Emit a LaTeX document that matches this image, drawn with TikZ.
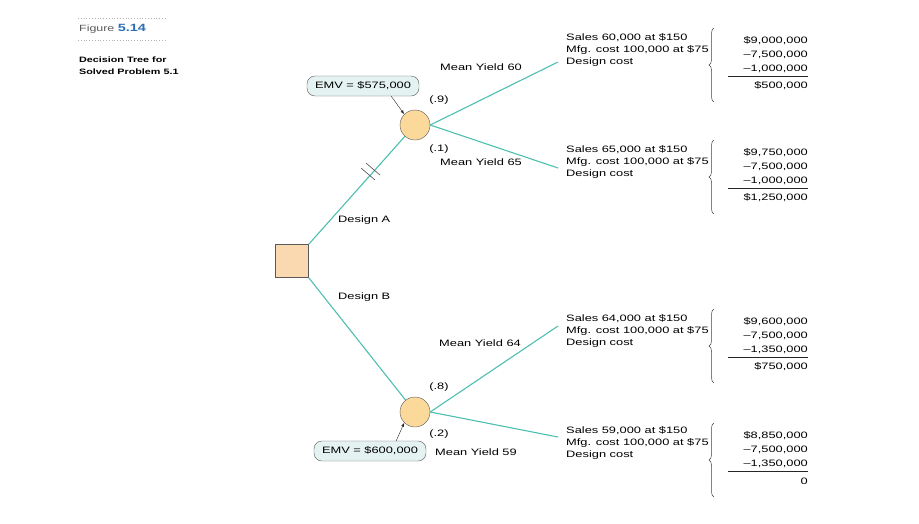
\documentclass[tikz,border=0pt]{standalone}
\usepackage{fontspec}
\setmainfont{Liberation Sans}[FakeStretch=1.38]
\usetikzlibrary{decorations.pathreplacing}
\definecolor{teal}{HTML}{4DBFB0}
\definecolor{nodeor}{HTML}{FBD99A}
\definecolor{sqf}{HTML}{FAD9B0}
\definecolor{emvf}{HTML}{E4F3F1}
\definecolor{figblue}{HTML}{2A6FB5}
\newcommand\mypayoff[5]{%
  \draw[gray!50!black,line width=0.5pt,decorate,decoration={brace,amplitude=5pt,mirror}] (714,#1) -- (714,#1+74);
  \node[num] at (808,#1+13) {#2};
  \node[num] at (808,#1+27) {#3};
  \node[num] at (808,#1+41) {#4};
  \draw[gray!30!black,line width=0.6pt] (728,#1+48) -- (808,#1+48);
  \node[num] at (808,#1+58) {#5};}
\begin{document}
\begin{tikzpicture}[x=1pt,y=-1pt,
  br/.style={teal,line width=1.1pt},
  txt/.style={font=\fontsize{9.3}{11}\selectfont,inner sep=0pt},
  blk/.style={txt,align=left,anchor=west,font=\fontsize{9.3}{12}\selectfont},
  num/.style={txt,anchor=east},
  emv/.style={draw=gray!70!black,fill=emvf,rounded corners=8pt,minimum width=112pt,minimum height=20pt,inner xsep=3pt,font=\fontsize{9.3}{10}\selectfont}]
\useasboundingbox (0,0) rectangle (919,523);
% title
\draw[gray!60,dotted,line width=0.8pt] (78,18) -- (165,18) (78,40) -- (165,40);
\node[anchor=west,inner sep=0pt] (fig) at (79,29) {\fontsize{9}{12}\selectfont\color{gray!70!black}Figure\ \textbf{\color{figblue}\fontsize{10.5}{12}\selectfont 5.14}};
\node[anchor=west,inner sep=0pt,align=left,font=\fontsize{7.8}{12}\selectfont\bfseries] (cap) at (79,66) {Decision Tree for\\Solved Problem 5.1};
% nodes
\node[draw=gray!70!black,fill=sqf,minimum size=33pt,inner sep=0pt] (sq) at (292,261) {};
\node[draw=gray!70!black,fill=nodeor,circle,minimum size=30pt,inner sep=0pt] (c1) at (415,125) {};
\node[draw=gray!70!black,fill=nodeor,circle,minimum size=30pt,inner sep=0pt] (c2) at (415,412) {};
\coordinate (e1) at (558,62);
\coordinate (e2) at (558,168);
\coordinate (e3) at (558,326);
\coordinate (e4) at (558,437);
\draw[br] (sq.north east) -- (c1);
\draw[br] (sq.south east) -- (c2);
\draw[br] (c1.east) -- (e1); \draw[br] (c1.east) -- (e2);
\draw[br] (c2.east) -- (e3); \draw[br] (c2.east) -- (e4);
% hash marks
\draw[gray!60!black,line width=0.6pt] (361,168) -- (375,180) (366,163) -- (380,175);
% labels
\node[txt,anchor=west] (da) at (338,220) {Design A};
\node[txt,anchor=west] (db) at (338,297) {Design B};
\node[txt,anchor=east] (m60) at (522,67) {Mean Yield 60};
\node[txt,anchor=east] (m65) at (522,162) {Mean Yield 65};
\node[txt,anchor=east] (m64) at (521,343) {Mean Yield 64};
\node[txt,anchor=west] (m59) at (435,452) {Mean Yield 59};
\node[txt] (p9) at (439,100) {(.9)};
\node[txt] (p1) at (439,149) {(.1)};
\node[txt] (p8) at (439,387) {(.8)};
\node[txt] (p2) at (439,434) {(.2)};
\node[emv] (emv1) at (363,86) {EMV = \$575,000};
\node[emv] (emv2) at (370,451) {EMV = \$600,000};
\draw[-latex,gray!30!black] (emv1.south east) ++(-28,0) -- (c1.north west);
\draw[-latex,gray!30!black] (emv2.north east) ++(-30,0) -- (c2.south west);
% blocks
\node[blk] (b1) at (566,50) {Sales 60,000 at \$150\\Mfg. cost 100,000 at \$75\\Design cost};
\node[blk] (b2) at (566,162) {Sales 65,000 at \$150\\Mfg. cost 100,000 at \$75\\Design cost};
\node[blk] (b3) at (566,331) {Sales 64,000 at \$150\\Mfg. cost 100,000 at \$75\\Design cost};
\node[blk] (b4) at (566,443) {Sales 59,000 at \$150\\Mfg. cost 100,000 at \$75\\Design cost};
\mypayoff{28}{\$9,000,000}{–7,500,000}{–1,000,000}{\$500,000}
\mypayoff{140}{\$9,750,000}{–7,500,000}{–1,000,000}{\$1,250,000}
\mypayoff{309}{\$9,600,000}{–7,500,000}{–1,350,000}{\$750,000}
\mypayoff{423}{\$8,850,000}{–7,500,000}{–1,350,000}{0}
\end{tikzpicture}
\end{document}
